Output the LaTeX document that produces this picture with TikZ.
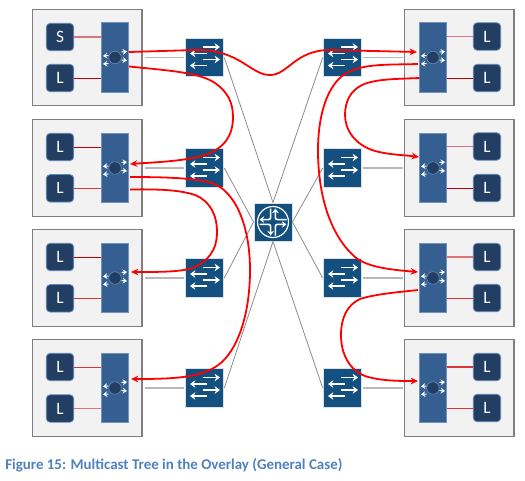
\documentclass[tikz,border=0pt]{standalone}
\usepackage{fontspec}
\setmainfont{Carlito}
\usetikzlibrary{arrows.meta}
\definecolor{boxfill}{HTML}{F2F2F2}
\definecolor{boxline}{HTML}{7F7F7F}
\definecolor{barfill}{HTML}{355F91}
\definecolor{barline}{HTML}{6F94C4}
\definecolor{leaffill}{HTML}{223E63}
\definecolor{leafline}{HTML}{5F86B8}
\definecolor{swfill}{HTML}{13507F}
\definecolor{swline}{HTML}{D9E0E6}
\definecolor{capblue}{HTML}{4F81BD}
\definecolor{linkgray}{HTML}{8C8C8C}
\definecolor{trunkgray}{HTML}{B8B8B8}
\definecolor{redA}{HTML}{C00000}
\definecolor{redB}{HTML}{D9363A}
\definecolor{redC}{HTML}{D9767A}
\tikzset{
  x=0.75pt,y=-0.75pt,
  hostbox/.style={draw=boxline,fill=boxfill,line width=0.8pt,minimum width=82pt,minimum height=72.2pt,inner sep=0pt},
  vbar/.style={draw=barline,fill=barfill,line width=0.6pt,minimum width=20.2pt,minimum height=52pt,inner sep=0pt},
  leaf/.style={draw=leafline,fill=leaffill,line width=0.6pt,rounded corners=3pt,minimum width=20.6pt,minimum height=20.6pt,inner sep=0pt,text=white,font=\fontsize{13}{13}\selectfont},
  swbox/.style={draw=swline,fill=swfill,line width=0.7pt,minimum width=29pt,minimum height=29pt,inner sep=0pt},
  thinlink/.style={draw=linkgray,line width=0.6pt},
  trunk/.style={draw=trunkgray,line width=1.1pt},
  tree/.style={draw=red,line width=1.35pt},
  treearrow/.style={tree,-{Stealth[length=5.5pt,width=5pt]}},
  wharrow/.style={draw=white,line width=1.4pt,-{Stealth[length=4pt,width=5.6pt]}},
  eyearrow/.style={draw=white,line width=0.7pt,-{Stealth[length=3.2pt,width=4.4pt]}},
  hub/.style={fill=leaffill,draw=barline,line width=0.4pt,circle,minimum size=9.4pt,inner sep=0pt},
  routerbox/.style={draw=swline,fill=swfill,line width=0.7pt,minimum width=28.5pt,minimum height=28.5pt,inner sep=0pt},
  caption/.style={text=capblue,font=\fontsize{11.2}{13}\selectfont\bfseries,anchor=west,inner sep=0pt}
}
\begin{document}
\begin{tikzpicture}
\useasboundingbox (0,0) rectangle (525,480);
\foreach \n/\yc in {1/57.5,2/168,3/278,4/388}{
  \node[hostbox] (lbox\n) at (87.3,\yc) {};
  \node[hostbox] (rbox\n) at (459.3,\yc) {};
  \node[vbar] (lbar\n) at (115,\yc) {};
  \node[vbar] (rbar\n) at (433,\yc) {};
  \node[swbox] (lsw\n) at (204.5,\yc) {};
  \node[swbox] (rsw\n) at (342.5,\yc) {};
  \node[hub] (lhub\n) at (115,\yc) {};
  \node[hub] (rhub\n) at (433,\yc) {};
  \foreach \h in {lhub\n,rhub\n}{
    \draw[eyearrow] ([shift={(6.5,-5.5)}]\h.center) -- ++(5.5,-0.5);
    \draw[eyearrow] ([shift={(-6.5,-2)}]\h.center) -- ++(-5.5,0.5);
    \draw[eyearrow] ([shift={(-6.5,6)}]\h.center) -- ++(-5.5,0.5);
    \draw[eyearrow] ([shift={(6.5,2.5)}]\h.center) -- ++(5.5,0.5);
  }
  \foreach \s in {lsw\n,rsw\n}{
    \draw[wharrow] ([shift={(-1.5,-10.5)}]\s.center) -- ++(17,0);
    \draw[wharrow] ([shift={(2.5,-4)}]\s.center) -- ++(-17,0);
    \draw[wharrow] ([shift={(-1.5,2)}]\s.center) -- ++(17,0);
    \draw[wharrow] ([shift={(2.5,8)}]\s.center) -- ++(-17,0);
  }
  \draw[trunk] ([xshift=1.5pt]lbox\n.east) -- ([xshift=-0.5pt]lsw\n.west);
  \draw[trunk] ([xshift=0.5pt]rsw\n.east) -- ([xshift=-0.5pt]rbox\n.west);
}
\node[leaf] (s1) at (60,37) {S};
\node[leaf] (l1b) at (60,78) {L};
\node[leaf] (l2a) at (60,147) {L};
\node[leaf] (l2b) at (60,188.3) {L};
\node[leaf] (l3a) at (60,257) {L};
\node[leaf] (l3b) at (60,298.3) {L};
\node[leaf] (l4a) at (60,367) {L};
\node[leaf] (l4b) at (60,408.5) {L};
\node[leaf] (r1a) at (487,36.5) {L};
\node[leaf] (r1b) at (487,78) {L};
\node[leaf] (r2a) at (487,146.5) {L};
\node[leaf] (r2b) at (487,188) {L};
\node[leaf] (r3a) at (487,257) {L};
\node[leaf] (r3b) at (487,298) {L};
\node[leaf] (r4a) at (487,367) {L};
\node[leaf] (r4b) at (487,408) {L};
\foreach \a/\b/\c/\w in {s1/lbar1/redC/0.8pt,l1b/lbar1/redA/0.7pt,l2a/lbar2/redA/0.7pt,l2b/lbar2/redB/0.8pt,l3a/lbar3/redA/0.7pt,l3b/lbar3/redB/0.7pt,l4a/lbar4/redB/0.7pt,l4b/lbar4/redC/1.2pt}{
  \draw[draw=\c,line width=\w] (\a.east) -- (\a.east -| \b.west);
}
\foreach \a/\b/\c/\w in {r1a/rbar1/redC/0.8pt,r1b/rbar1/redA/0.7pt,r2a/rbar2/redC/1.2pt,r2b/rbar2/redA/0.7pt,r3a/rbar3/redC/1.2pt,r3b/rbar3/redB/0.7pt,r4a/rbar4/redB/0.8pt,r4b/rbar4/redB/0.7pt}{
  \draw[draw=\c,line width=\w] (\a.west) -- (\a.west -| \b.east);
}
\node[routerbox] (core) at (273,222) {};
\draw[white,line width=0.9pt] (core.center) circle (15.5);
\foreach \r in {0,90,180,270}{
  \begin{scope}[shift={(core.center)},rotate=\r]
    \draw[draw=white,line width=1.2pt,rounded corners=1.5pt,-{Stealth[length=3.5pt,width=5pt]}] (2.4,13.5) -- (2.4,2.4) -- (13.5,2.4);
  \end{scope}
}
\draw[thinlink] (lsw1.east) -- (core.north);
\draw[thinlink] (lsw2.east) -- (core.west);
\draw[thinlink] (lsw3.east) -- (core.west);
\draw[thinlink] (lsw4.east) -- (core.south);
\draw[thinlink] (rsw1.west) -- (core.north);
\draw[thinlink] (rsw2.west) -- (core.east);
\draw[thinlink] (rsw3.west) -- (core.east);
\draw[thinlink] (rsw4.west) -- (core.south);
\coordinate (a1) at (129,52);
\coordinate (b1) at (417,52);
\coordinate (a2) at (129,66.5);
\coordinate (b2) at (130,164);
\coordinate (a3) at (130,177);
\coordinate (b3) at (131,379);
\coordinate (a4) at (130,189.5);
\coordinate (b4) at (131,272);
\coordinate (a5) at (418,64);
\coordinate (b5) at (418,272);
\coordinate (a6) at (419.5,78);
\coordinate (b6) at (419,157);
\coordinate (a7) at (418,290);
\coordinate (b7) at (418,381);
\draw[treearrow] (a1) -- (195,50) .. controls (240,49) and (250,75) .. (270,75) .. controls (288,75) and (295,50) .. (330,50) -- (b1);
\draw[treearrow] (a2) .. controls (175,71) and (200,73) .. (215,83) .. controls (228,92) and (233,103) .. (233,117) .. controls (233,135) and (225,148) .. (205,155) .. controls (185,161) and (160,162) .. (b2);
\draw[treearrow] (a3) .. controls (165,177) and (195,178) .. (212,183) .. controls (235,191) and (250,225) .. (250,270) .. controls (250,310) and (240,345) .. (222,362) .. controls (205,377) and (180,379) .. (b3);
\draw[treearrow] (a4) .. controls (160,189) and (180,190) .. (195,195) .. controls (210,201) and (217,215) .. (217,232) .. controls (217,250) and (208,262) .. (192,268) .. controls (180,272) and (160,272) .. (b4);
\draw[treearrow] (a5) .. controls (385,65) and (360,63) .. (342,76) .. controls (325,90) and (318,120) .. (318,150) .. controls (318,195) and (330,235) .. (355,257) .. controls (368,268) and (395,270) .. (b5);
\draw[treearrow] (a6) .. controls (395,79) and (375,79) .. (362,85) .. controls (350,91) and (345,102) .. (345,115) .. controls (345,130) and (355,145) .. (375,151) .. controls (390,155) and (405,155) .. (b6);
\draw[treearrow] (a7) .. controls (400,292) and (375,294) .. (360,299) .. controls (347,305) and (341,318) .. (341,335) .. controls (341,355) and (350,370) .. (365,376) .. controls (380,381) and (400,381) .. (b7);
\node[caption] (cap) at (5,465) {Figure 15: Multicast Tree in the Overlay (General Case)};
\end{tikzpicture}
\end{document}
